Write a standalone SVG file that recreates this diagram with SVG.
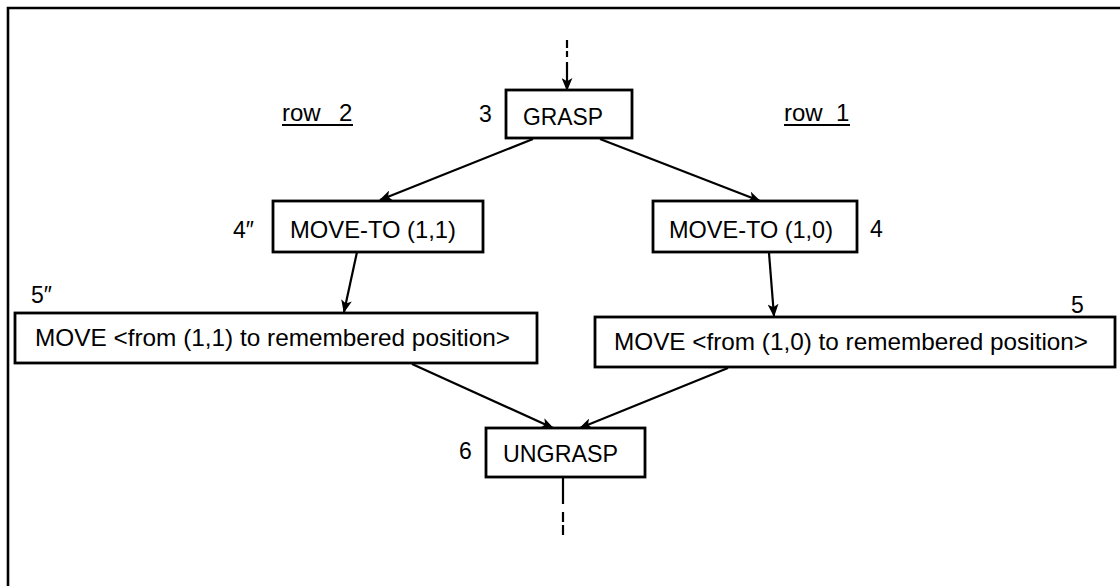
<svg xmlns="http://www.w3.org/2000/svg" width="1120" height="586" viewBox="0 0 1120 586">
<style>
.box{fill:#fff;stroke:#000;stroke-width:2.8}
.t{font-family:"Liberation Sans",Arial,sans-serif;font-size:24px;fill:#000}
.n{font-family:"Liberation Sans",Arial,sans-serif;font-size:23px;fill:#000}
.c{stroke:#000;stroke-width:2.2;fill:none}
</style>
<defs>
<marker id="ah" viewBox="0 0 12 10" refX="11" refY="5" markerWidth="13" markerHeight="11" markerUnits="userSpaceOnUse" orient="auto">
<path d="M0,0 L12,5 L0,10 L3,5 z" fill="#000"/>
</marker>
</defs>
<rect width="1120" height="586" fill="#fff"/>
<g id="frame">
<path d="M8,586 L8,8 L1120,8" fill="none" stroke="#000" stroke-width="2.6"/>
</g>
<g id="connectors">
<path class="c" d="M567,40 L567,48 M567,51 L567,57"/>
<path class="c" d="M567,62 L567,90" marker-end="url(#ah)"/>
<path class="c" d="M533,139 L380,200" marker-end="url(#ah)"/>
<path class="c" d="M600,139 L760,201" marker-end="url(#ah)"/>
<path class="c" d="M357,252 L344,312" marker-end="url(#ah)"/>
<path class="c" d="M769,253 L774,316" marker-end="url(#ah)"/>
<path class="c" d="M412,364 L553,428" marker-end="url(#ah)"/>
<path class="c" d="M728,368 L580,428" marker-end="url(#ah)"/>
<path class="c" d="M563,477 L563,504 M563,512 L563,522 M563,525 L563,535"/>
</g>
<g id="row2">
<text class="t" x="282" y="121"><tspan>row </tspan><tspan x="339">2</tspan></text>
<line x1="282" y1="125" x2="353" y2="125" stroke="#000" stroke-width="2"/>
</g>
<g id="row1">
<text class="t" x="784" y="121"><tspan>row </tspan><tspan x="836">1</tspan></text>
<line x1="784" y1="125" x2="850" y2="125" stroke="#000" stroke-width="2"/>
</g>
<g id="n3">
<rect class="box" x="506" y="90" width="126" height="48"/>
<text class="t" x="523" y="125" textLength="80" lengthAdjust="spacingAndGlyphs">GRASP</text>
<text class="n" x="479" y="122">3</text>
</g>
<g id="n4b">
<rect class="box" x="273" y="201" width="210" height="51"/>
<text class="t" x="290" y="238" textLength="166" lengthAdjust="spacingAndGlyphs">MOVE-TO (1,1)</text>
<text class="n" x="233" y="238">4″</text>
</g>
<g id="n4">
<rect class="box" x="653" y="201" width="204" height="51"/>
<text class="t" x="669" y="238" textLength="164" lengthAdjust="spacingAndGlyphs">MOVE-TO (1,0)</text>
<text class="n" x="870" y="237">4</text>
</g>
<g id="n5b">
<rect class="box" x="15" y="313" width="522" height="50"/>
<text class="t" x="35" y="346" textLength="475" lengthAdjust="spacingAndGlyphs">MOVE &lt;from (1,1) to remembered position&gt;</text>
<text class="n" x="31" y="303">5″</text>
</g>
<g id="n5">
<rect class="box" x="595" y="317" width="520" height="50"/>
<text class="t" x="614" y="350" textLength="474" lengthAdjust="spacingAndGlyphs">MOVE &lt;from (1,0) to remembered position&gt;</text>
<text class="n" x="1071" y="313">5</text>
</g>
<g id="n6">
<rect class="box" x="486" y="428" width="159" height="49"/>
<text class="t" x="503" y="462" textLength="115" lengthAdjust="spacingAndGlyphs">UNGRASP</text>
<text class="n" x="459" y="459">6</text>
</g>
</svg>
